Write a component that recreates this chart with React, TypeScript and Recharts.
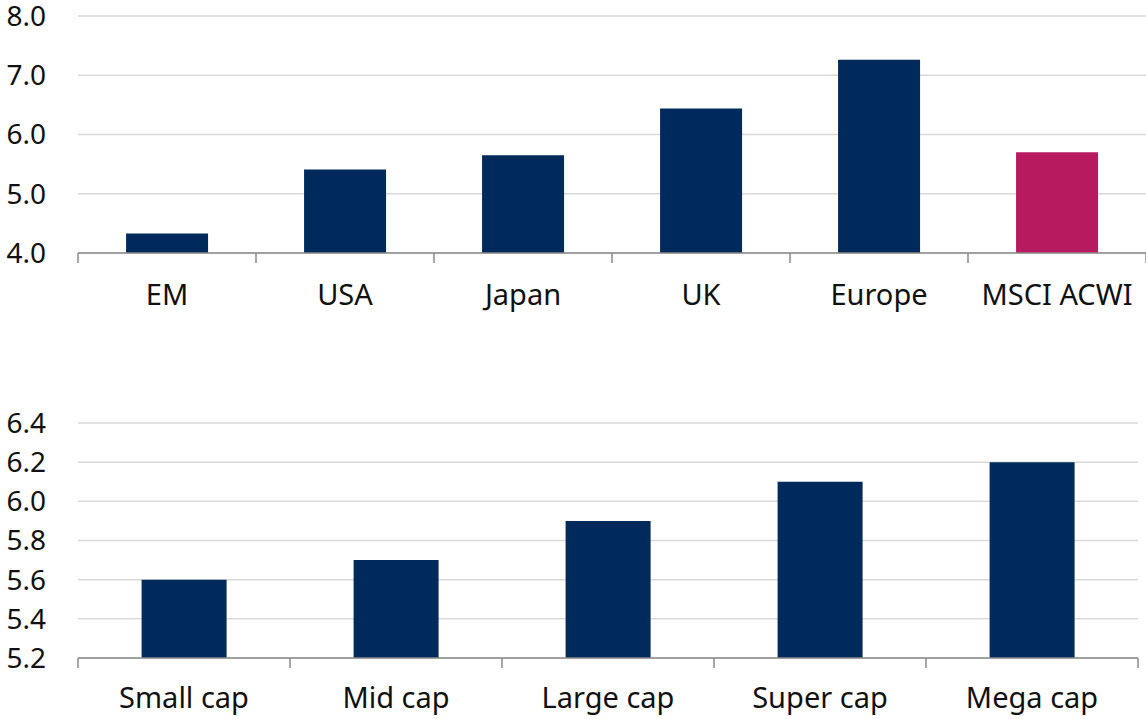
import React from 'react';
import { BarChart, Bar, XAxis, YAxis, CartesianGrid, Cell } from 'recharts';

const regions = ['EM', 'USA', 'Japan', 'UK', 'Europe', 'MSCI ACWI'];
const regionValues = [4.33, 5.41, 5.65, 6.44, 7.26, 5.7];
const regionTicks = [4, 5, 6, 7, 8];

const sizes = ['Small cap', 'Mid cap', 'Large cap', 'Super cap', 'Mega cap'];
const sizeValues = [5.6, 5.7, 5.9, 6.1, 6.2];
const sizeTicks = [5.2, 5.4, 5.6, 5.8, 6.0, 6.2, 6.4];

const NAVY = '#002A5C';
const MAGENTA = '#B81A60';
const AXIS = '#8a8a8a';
const FONT = '"Noto Sans", "Open Sans", sans-serif';
const FONT_SIZE = 29;

const regionData = regions.map((name, i) => ({ name, value: regionValues[i] }));
const sizeData = sizes.map((name, i) => ({ name, value: sizeValues[i] }));

// category label centred in its band, with tick marks on the band edges
function BandTick(props: any) {
  const { x, y, payload, index, visibleTicksCount, labelGap } = props;
  const half = payload.offset || 0;
  const last = index === visibleTicksCount - 1;
  return (
    <g>
      <line x1={x - half} x2={x - half} y1={y} y2={y + 10} stroke={AXIS} strokeWidth={1.5} />
      {last && <line x1={x + half} x2={x + half} y1={y} y2={y + 10} stroke={AXIS} strokeWidth={1.5} />}
      <text x={x} y={y + labelGap} textAnchor="middle" fill="#111" fontSize={FONT_SIZE} fontFamily={FONT}>
        {payload.value}
      </text>
    </g>
  );
}

const yTick = { fill: '#111', fontSize: 28, fontFamily: FONT };

export default function App() {
  return (
    <div style={{ position: 'absolute', left: 0, top: 0, width: 1146, height: 719, background: '#fff' }}>
      <div style={{ position: 'absolute', left: 0, top: 0 }}>
        <BarChart width={1146} height={330} data={regionData} margin={{ top: 16, right: 0, left: 0, bottom: 0 }} barCategoryGap="27%">
          <CartesianGrid vertical={false} stroke="#d9d9d9" strokeWidth={1.5} />
          <XAxis
            dataKey="name"
            height={77}
            stroke={AXIS}
            strokeWidth={1.5}
            tickLine={false}
            tickSize={0}
            tickMargin={0}
            tick={<BandTick labelGap={52} />}
            interval={0}
          />
          <YAxis
            width={78}
            domain={[4, 8]}
            ticks={regionTicks}
            axisLine={false}
            tickLine={false}
            tickSize={0}
            tickMargin={32}
            tickFormatter={(v: number) => v.toFixed(1)}
            tick={yTick}
          />
          <Bar dataKey="value" isAnimationActive={false}>
            {regionData.map((d) => (
              <Cell key={d.name} fill={d.name === 'MSCI ACWI' ? MAGENTA : NAVY} />
            ))}
          </Bar>
        </BarChart>
      </div>
      <div style={{ position: 'absolute', left: 0, top: 400 }}>
        <BarChart width={1146} height={319} data={sizeData} margin={{ top: 23, right: 8, left: 0, bottom: 0 }} barCategoryGap="30%">
          <CartesianGrid vertical={false} stroke="#d9d9d9" strokeWidth={1.5} />
          <XAxis
            dataKey="name"
            height={61}
            stroke={AXIS}
            strokeWidth={1.5}
            tickLine={false}
            tickSize={0}
            tickMargin={0}
            tick={<BandTick labelGap={50} />}
            interval={0}
          />
          <YAxis
            width={78}
            domain={[5.2, 6.4]}
            ticks={sizeTicks}
            axisLine={false}
            tickLine={false}
            tickSize={0}
            tickMargin={32}
            tickFormatter={(v: number) => v.toFixed(1)}
            tick={yTick}
          />
          <Bar dataKey="value" fill={NAVY} isAnimationActive={false} />
        </BarChart>
      </div>
    </div>
  );
}
